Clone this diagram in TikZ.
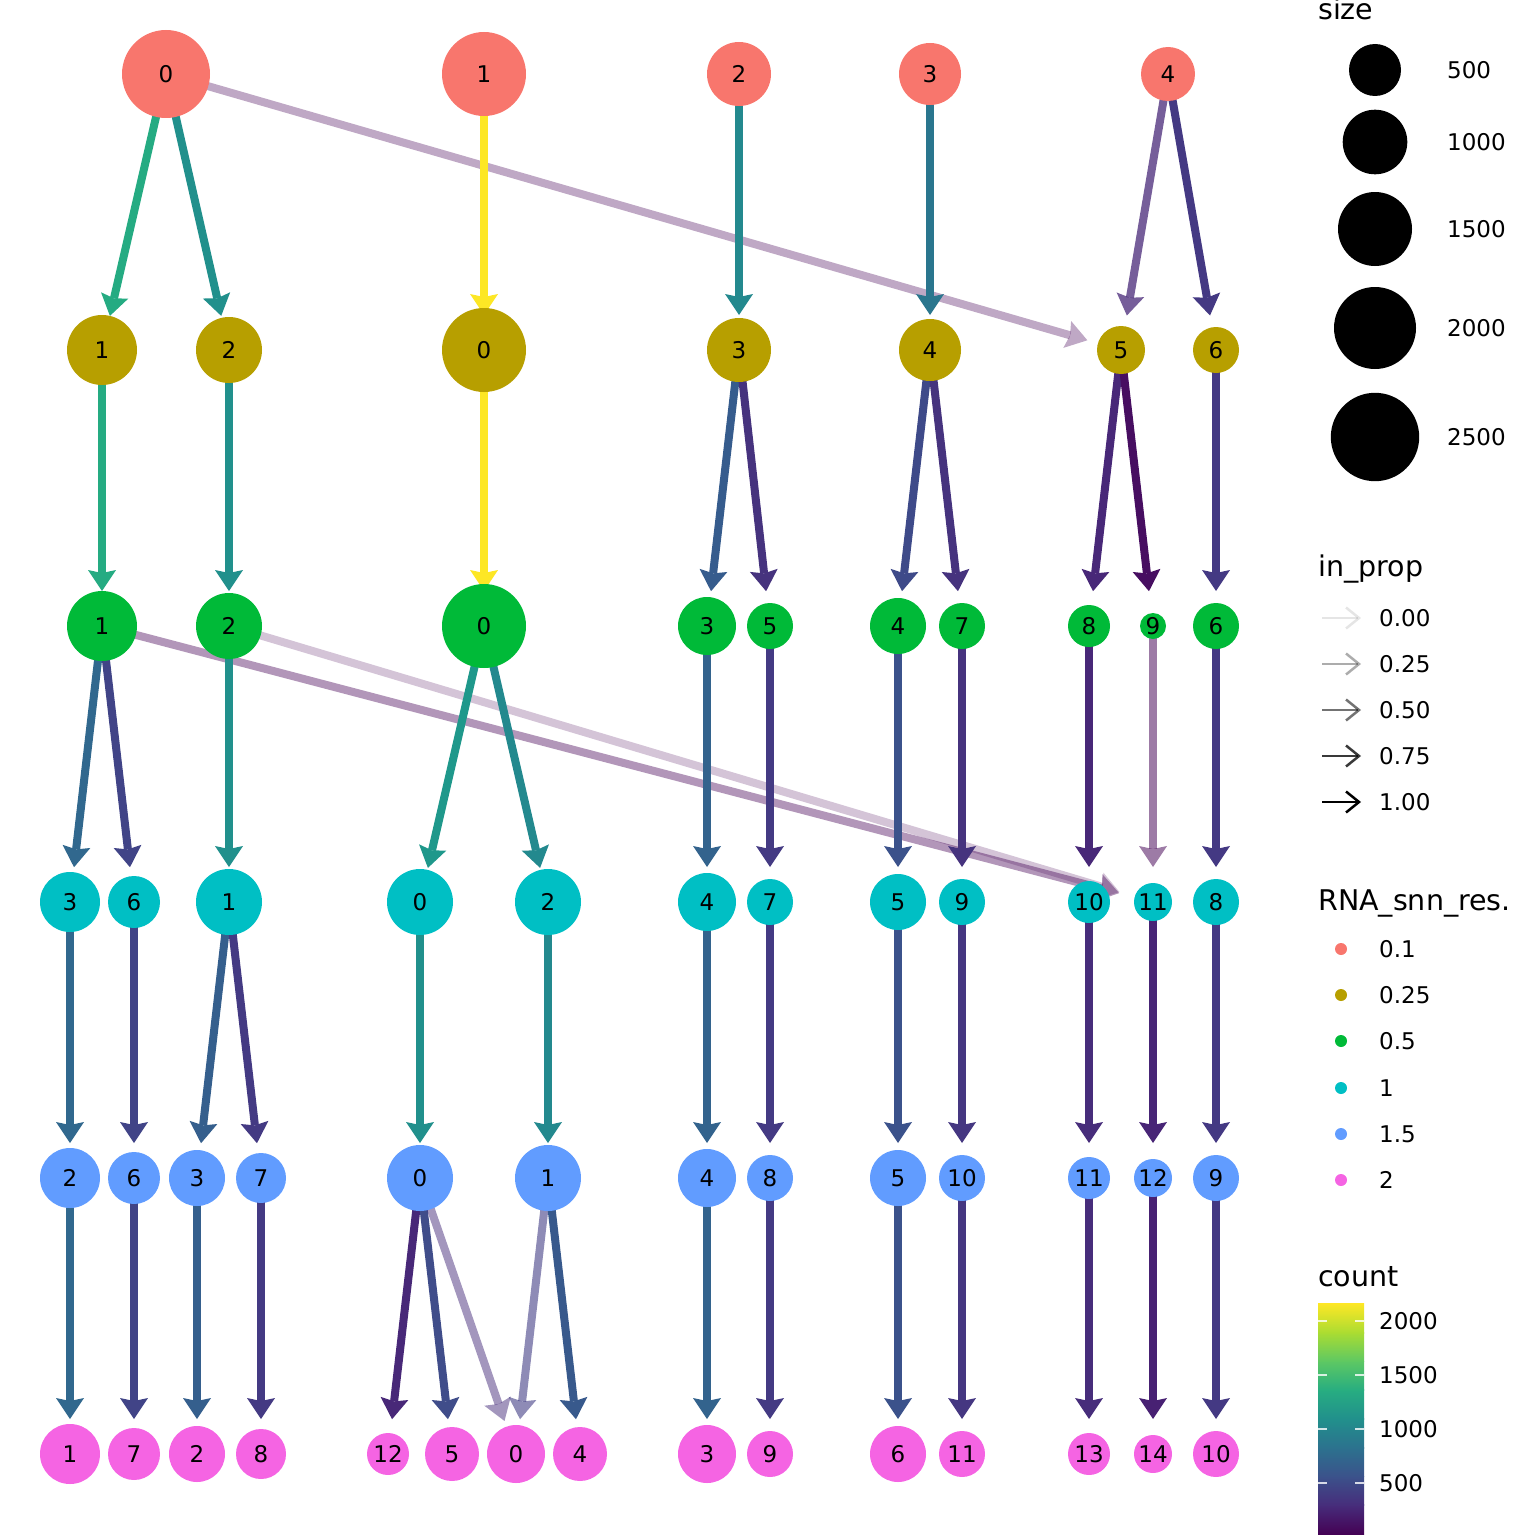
\documentclass[tikz,border=0pt]{standalone}
\usepackage{fontspec}
\setmainfont{DejaVu Sans}
\usetikzlibrary{arrows.meta,backgrounds}

\definecolor{ca}{HTML}{F8766D}
\definecolor{cb}{HTML}{B79F00}
\definecolor{cc}{HTML}{00BA38}
\definecolor{cd}{HTML}{00BFC4}
\definecolor{ce}{HTML}{619CFF}
\definecolor{cf}{HTML}{F564E3}
\definecolor{v0}{HTML}{440154}
\definecolor{v1}{HTML}{472D7B}
\definecolor{v2}{HTML}{3B528B}
\definecolor{v3}{HTML}{2C728E}
\definecolor{v4}{HTML}{21908C}
\definecolor{v5}{HTML}{27AD81}
\definecolor{v6}{HTML}{5DC863}
\definecolor{v7}{HTML}{AADC32}
\definecolor{v8}{HTML}{FDE725}

\tikzset{
  clu/.style={circle, inner sep=0pt, text=black, font=\fontsize{23}{27}\selectfont},
  tree/.style={line width=8pt, shorten >=35pt,
    -{Stealth[length=21pt,width=28pt,inset=3pt,line width=0pt]}},
  legtitle/.style={anchor=base west, inner sep=0pt, font=\fontsize{28.5}{32}\selectfont},
  leglabel/.style={anchor=west, inner sep=0pt, font=\fontsize{23}{27}\selectfont},
}

\begin{document}
\begin{tikzpicture}[x=1pt,y=-1pt]
  \useasboundingbox (0,0) rectangle (1536,1536);

  % clusters, one row per resolution
  \foreach \n/\x/\r in {0/166/44,1/484/42,2/739/32,3/930/31,4/1168/27}
    \node[clu, fill=ca, minimum size=2*\r pt] (a\n) at (\x,74) {\n};
  \foreach \n/\x/\r in {1/102/35,2/229/33,0/484/42,3/739/32,4/930/31,5/1121/24,6/1216/23}
    \node[clu, fill=cb, minimum size=2*\r pt] (b\n) at (\x,350) {\n};
  \foreach \n/\x/\r in {1/102/35,2/229/33,0/484/42,3/707/29,5/770/23,4/898/28,7/962/23,
      8/1089/21,9/1153/13,6/1216/23}
    \node[clu, fill=cc, minimum size=2*\r pt] (c\n) at (\x,626) {\n};
  \foreach \n/\x/\r in {3/70/30,6/134/26,1/229/33,0/420/33,2/548/33,4/707/29,7/770/23,
      5/898/28,9/962/23,10/1089/21,11/1153/19,8/1216/23}
    \node[clu, fill=cd, minimum size=2*\r pt] (d\n) at (\x,902) {\n};
  \foreach \n/\x/\r in {2/70/30,6/134/26,3/197/28,7/261/25,0/420/33,1/548/33,4/707/29,
      8/770/23,5/898/28,10/962/23,11/1089/21,12/1153/19,9/1216/23}
    \node[clu, fill=ce, minimum size=2*\r pt] (e\n) at (\x,1178) {\n};
  \foreach \n/\x/\r in {1/70/30,7/134/26,2/197/28,8/261/25,12/388/21,5/452/27,0/516/29,
      4/580/27,3/707/29,9/770/23,6/898/28,11/962/23,13/1089/21,14/1153/19,10/1216/23}
    \node[clu, fill=cf, minimum size=2*\r pt] (f\n) at (\x,1454) {\n};

  % edges under the clusters
  \begin{scope}[on background layer]
    \foreach \src/\dst/\hue/\op in {
        a0/b1/25AB82/1, a0/b2/21908C/1, a0/b5/440154/0.34, a1/b0/FDE725/1,
        a2/b3/23898E/1, a3/b4/2A768E/1, a4/b5/482878/0.75, a4/b6/443983/1,
        b1/c1/25AB82/1, b2/c2/21908C/1, b0/c0/FDE725/1, b3/c3/365C8D/1,
        b3/c5/46337E/1, b4/c4/3E4A89/1, b4/c7/46337E/1, b5/c8/482878/1,
        b5/c9/470E61/1, b6/c6/443983/1,
        c1/d3/31688E/1, c1/d6/414487/1, c1/d11/440154/0.41, c2/d1/21908C/1,
        c2/d11/440154/0.23, c0/d0/1F988B/1, c0/d2/23898E/1, c3/d4/33638D/1,
        c5/d7/443A83/1, c4/d5/3B528B/1, c7/d9/46337E/1, c8/d10/482878/1,
        c9/d11/440154/0.52, c6/d8/443983/1,
        d3/e2/31688E/1, d6/e6/414487/1, d1/e3/355F8D/1, d1/e7/443A83/1,
        d0/e0/21908C/1, d2/e1/23898E/1, d4/e4/33638D/1, d7/e8/443A83/1,
        d5/e5/3B528B/1, d9/e10/453781/1, d10/e11/472D7B/1, d11/e12/482576/1,
        d8/e9/443983/1,
        e2/f1/31688E/1, e6/f7/414487/1, e3/f2/355F8D/1, e7/f8/443A83/1,
        e0/f12/482878/1, e0/f5/404D8A/1, e0/f0/472D7B/0.5, e1/f0/433E85/0.6,
        e1/f4/38598C/1, e4/f3/33638D/1, e8/f9/443A83/1, e5/f6/3B528B/1,
        e10/f11/453781/1, e11/f13/472D7B/1, e12/f14/482173/1, e9/f10/443983/1}{
      \definecolor{ec}{HTML}{\hue}
      \draw[tree, ec, opacity=\op] (\src.center) -- (\dst.center);
    }
  \end{scope}

  % legend: size
  \node[legtitle] (tsize) at (1318,20) {size};
  \foreach \v/\y/\r in {500/70/26,1000/142/32.3,1500/229/37,2000/328/41,2500/437/44.2}{
    \fill[black] (1375,\y) circle (\r);
    \node[leglabel] (s\v) at (1447,\y) {\v};
  }

  % legend: in_prop
  \node[legtitle] (tprop) at (1318,576) {in\_prop};
  \foreach \v/\y/\op in {0.00/618/0.1,0.25/664/0.325,0.50/710/0.55,0.75/756/0.775,1.00/802/1}{
    \coordinate (p\y) at (1322,\y);
    \coordinate (q\y) at (1361,\y);
    \draw[black, opacity=\op, line width=2.5pt,
      -{Straight Barb[length=13pt,width=21pt]}] (p\y) -- (q\y);
    \node[leglabel] (l\y) at (1379,\y) {\v};
  }

  % legend: resolution
  \node[legtitle] (tres) at (1318,910) {RNA\_snn\_res.};
  \foreach \v/\y/\col in {0.1/949/ca,0.25/995/cb,0.5/1041/cc,1/1088/cd,1.5/1134/ce,2/1180/cf}{
    \fill[\col] (1341,\y) circle (6);
    \node[leglabel] (r\y) at (1379,\y) {\v};
  }

  % legend: count
  \node[legtitle] (tcount) at (1318,1286) {count};
  \foreach \i in {0,...,7}{
    \pgfmathtruncatemacro\j{\i+1}
    \shade[bottom color=v\i, top color=v\j]
      (1318,{1534-\i*28.75+0.4}) rectangle (1364,{1534-\j*28.75-0.4});
  }
  \foreach \v/\y in {2000/1321,1500/1375,1000/1429,500/1483}{
    \draw[white, opacity=0.8, line width=1.2pt] (1318,\y) -- (1327,\y);
    \draw[white, opacity=0.8, line width=1.2pt] (1355,\y) -- (1364,\y);
    \node[leglabel] (k\v) at (1379,\y) {\v};
  }
\end{tikzpicture}
\end{document}
